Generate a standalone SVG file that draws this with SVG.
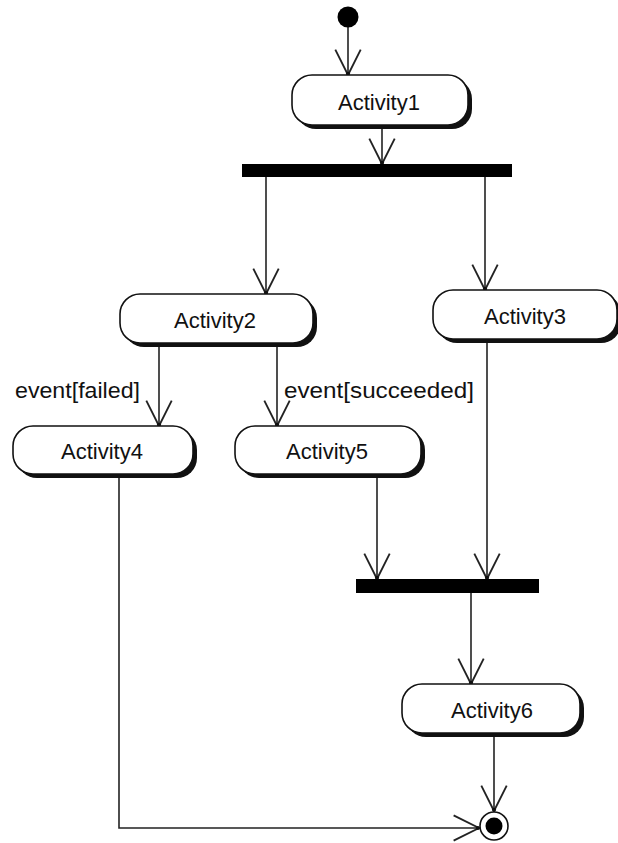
<svg xmlns="http://www.w3.org/2000/svg" width="618" height="843" viewBox="0 0 618 843">
<defs>
<style>
.shadow{fill:#111;stroke:none}
.box{fill:#fff;stroke:#111;stroke-width:1.6}
.lbl{font-family:"Liberation Sans",Arial,sans-serif;font-size:22px;fill:#111}
.mid{text-anchor:middle}
.edge{fill:none;stroke:#222;stroke-width:1.6}
.bar{fill:#000}
</style>
<marker id="arr" markerUnits="userSpaceOnUse" markerWidth="30" markerHeight="30" viewBox="-24 -13 26 26" refX="0" refY="0" orient="auto">
<path d="M-22,-11 L0,0 L-22,11" fill="none" stroke="#222" stroke-width="1.6"/>
<circle cx="-1" cy="0" r="1.8" fill="#111"/>
</marker>
</defs>
<rect width="618" height="843" fill="#fff"/>

<g id="connectors">
<path class="edge" d="M348,27 V75" marker-end="url(#arr)"/>
<path class="edge" d="M382,125 V164" marker-end="url(#arr)"/>
<path class="edge" d="M266,177 V294" marker-end="url(#arr)"/>
<path class="edge" d="M485,177 V290" marker-end="url(#arr)"/>
<path class="edge" d="M159,343 V426" marker-end="url(#arr)"/>
<path class="edge" d="M277,343 V426" marker-end="url(#arr)"/>
<path class="edge" d="M377,475 V579" marker-end="url(#arr)"/>
<path class="edge" d="M487,339 V579" marker-end="url(#arr)"/>
<path class="edge" d="M471,593 V684" marker-end="url(#arr)"/>
<path class="edge" d="M494,733 V811" marker-end="url(#arr)"/>
<path class="edge" d="M119,474 V828 H479" marker-end="url(#arr)"/>
<text class="lbl" x="15" y="398" textLength="125" lengthAdjust="spacingAndGlyphs">event[failed]</text>
<text class="lbl" x="284" y="398" textLength="190" lengthAdjust="spacingAndGlyphs">event[succeeded]</text>
</g>

<g id="start"><circle cx="348" cy="17" r="10.5" fill="#000"/></g>

<g id="activity1">
<rect class="shadow" x="296" y="79" width="176" height="50" rx="20"/>
<rect class="box" x="292" y="75" width="176" height="50" rx="20"/>
<text class="lbl mid" x="379" y="110">Activity1</text>
</g>

<g id="fork1"><rect class="bar" x="242" y="164" width="270" height="13"/></g>

<g id="activity2">
<rect class="shadow" x="124" y="298" width="193" height="49" rx="20"/>
<rect class="box" x="120" y="294" width="193" height="49" rx="20"/>
<text class="lbl mid" x="215" y="328">Activity2</text>
</g>

<g id="activity3">
<rect class="shadow" x="437" y="294" width="184" height="49" rx="20"/>
<rect class="box" x="433" y="290" width="184" height="49" rx="20"/>
<text class="lbl mid" x="525" y="324">Activity3</text>
</g>

<g id="activity4">
<rect class="shadow" x="17" y="430" width="180" height="48" rx="20"/>
<rect class="box" x="13" y="426" width="180" height="48" rx="20"/>
<text class="lbl mid" x="102" y="459">Activity4</text>
</g>

<g id="activity5">
<rect class="shadow" x="239" y="430" width="186" height="48" rx="20"/>
<rect class="box" x="235" y="426" width="186" height="48" rx="20"/>
<text class="lbl mid" x="327" y="459">Activity5</text>
</g>

<g id="join1"><rect class="bar" x="356" y="579" width="183" height="14"/></g>

<g id="activity6">
<rect class="shadow" x="406" y="688" width="178" height="49" rx="20"/>
<rect class="box" x="402" y="684" width="178" height="49" rx="20"/>
<text class="lbl mid" x="492" y="718">Activity6</text>
</g>

<g id="end">
<circle cx="494" cy="826" r="14" fill="#fff" stroke="#111" stroke-width="1.6"/>
<circle cx="494" cy="826" r="8.5" fill="#000"/>
</g>
</svg>
